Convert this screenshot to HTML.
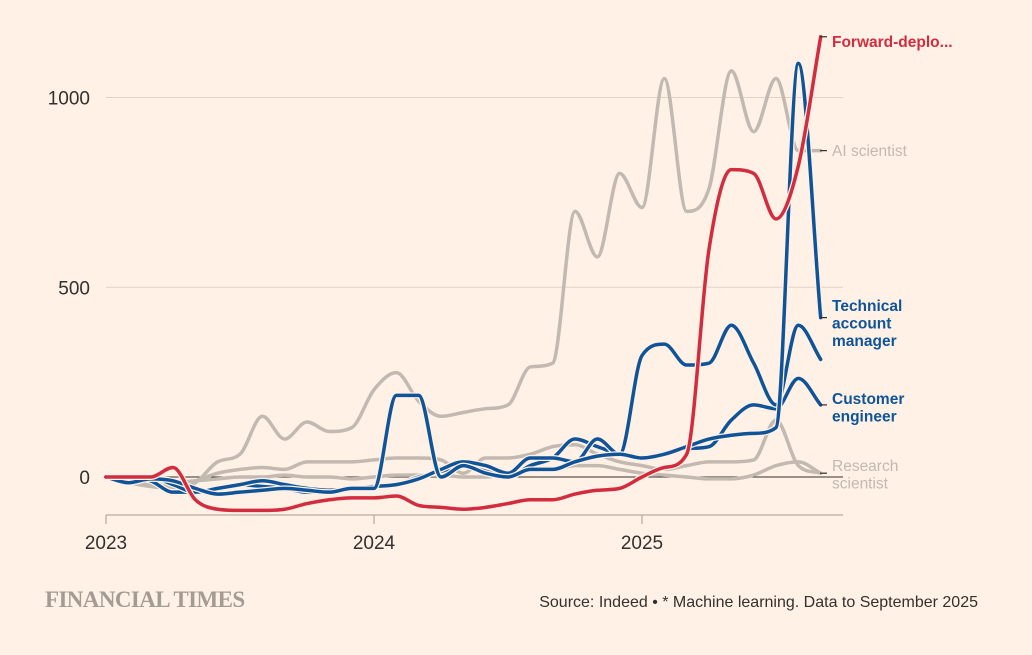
<!DOCTYPE html>
<html><head><meta charset="utf-8">
<style>
html,body{margin:0;padding:0;background:#fff1e5;}
body{width:1032px;height:650px;overflow:hidden;font-family:"Liberation Sans",sans-serif;}
svg text{font-family:"Liberation Sans",sans-serif;}
</style></head>
<body>
<svg id="chart" width="1032" height="650" viewBox="0 0 1032 650" xmlns="http://www.w3.org/2000/svg">
<rect width="1032" height="650" fill="#fff1e5"/>
<g id="grid"></g>
<g id="series"></g>
<g id="labels"></g>
<text x="45" y="607" font-size="23" fill="#a39c94" style="font-family:'Liberation Serif',serif;font-weight:bold;letter-spacing:-0.6px">FINANCIAL TIMES</text>
<text x="978" y="607" text-anchor="end" font-size="16" fill="#33302e">Source: Indeed • * Machine learning. Data to September 2025</text>
</svg>
<script>
const months = 33; // Jan 2023 .. Sep 2025
const yTicks = [0, 500, 1000];
const xTickLabels = ["2023", "2024", "2025"];
const xTickMonths = [0, 12, 24];
const gray2Values = [0,-10,-20,-25,-10,10,20,25,20,40,40,40,45,50,50,45,10,50,50,60,80,85,60,40,30,20,30,40,40,45,150,30,10];
const researchValues = [0,-5,-10,-15,-10,-5,0,0,5,0,0,-5,0,5,5,5,0,0,10,20,20,30,30,20,10,5,0,-5,-5,5,30,40,10];
const aiScientistValues = [0,-15,-25,-30,-15,40,60,160,100,145,120,130,230,275,200,160,170,180,190,290,300,700,580,800,710,1050,700,760,1070,910,1050,860,860];
const customerEngValues = [0,0,-10,-40,-40,-30,-20,-25,-30,-40,-35,-30,-25,-20,0,15,30,15,0,30,50,100,80,60,50,60,75,80,150,190,180,260,190];
const blue2Values = [0,-10,0,-20,-40,-30,-20,-10,-20,-30,-35,-30,-25,-20,-5,20,40,30,10,50,50,40,100,60,320,350,295,300,400,300,190,400,310];
const tamValues = [0,-15,-5,-10,-30,-45,-40,-35,-30,-35,-40,-30,-30,215,215,0,30,10,0,20,20,40,55,60,50,60,80,100,110,115,130,1090,420];
const fdeValues = [0,0,0,25,-60,-85,-88,-88,-85,-70,-60,-55,-55,-50,-75,-80,-85,-80,-70,-60,-60,-45,-35,-30,0,25,60,600,810,800,680,820,1160];

const X0=106, MPX=268/12;
const xs = m => X0 + m*MPX;
const ys = v => 477 - v*0.3795;
const NS="http://www.w3.org/2000/svg";
function mk(tag, attrs, parent){const e=document.createElementNS(NS,tag);for(const k in attrs)e.setAttribute(k,attrs[k]);parent.appendChild(e);return e;}

const grid=document.getElementById('grid');
yTicks.forEach(t=>{
  const l=mk('line',{x1:106,x2:843,y1:ys(t),y2:ys(t),stroke:t===0?'#33302e':'#e0d3c6','stroke-width':1},grid);
  
  
  const tx=mk('text',{x:90,y:ys(t)+7,'text-anchor':'end','font-size':19,fill:'#33302e'},grid);
  tx.textContent=t;
  
  
});
const ax=mk('line',{x1:106,x2:843,y1:515,y2:515,stroke:'#a79d93','stroke-width':1},grid);


xTickMonths.forEach((m,i)=>{
  const tk=mk('line',{x1:xs(m),x2:xs(m),y1:515,y2:524,stroke:'#a79d93'},grid);
  
  
  const tx=mk('text',{x:xs(m),y:549,'text-anchor':'middle','font-size':19,fill:'#33302e'},grid);
  tx.textContent=xTickLabels[i];
  
  
});

// monotone cubic interpolation (no overshoot)
function pathFor(vals){
  const n=vals.length, px=vals.map((v,i)=>xs(i)), py=vals.map(v=>ys(v));
  const h=MPX, d=[], m=new Array(n);
  for(let i=0;i<n-1;i++) d.push((py[i+1]-py[i])/h);
  m[0]=d[0]; m[n-1]=d[n-2];
  for(let i=1;i<n-1;i++){ m[i]=(d[i-1]*d[i]<=0)?0:(d[i-1]+d[i])/2; }
  for(let i=0;i<n-1;i++){
    if(d[i]===0){m[i]=0;m[i+1]=0;continue;}
    const a=m[i]/d[i], b=m[i+1]/d[i], s=a*a+b*b;
    if(s>9){const t=3/Math.sqrt(s);m[i]=t*a*d[i];m[i+1]=t*b*d[i];}
  }
  let p='M'+px[0]+','+py[0];
  for(let i=0;i<n-1;i++){
    p+=' C'+(px[i]+h/3)+','+(py[i]+m[i]*h/3)+' '+(px[i+1]-h/3)+','+(py[i+1]-m[i+1]*h/3)+' '+px[i+1]+','+py[i+1];
  }
  return p;
}
const ser=document.getElementById('series');
const seriesList=[
 ['gray-series-line',gray2Values,'#c2b9b0'],
 ['research-scientist-line',researchValues,'#c2b9b0'],
 ['ai-scientist-line',aiScientistValues,'#c2b9b0'],
 ['customer-engineer-line',customerEngValues,'#0f5499'],
 ['blue-series-line',blue2Values,'#0f5499'],
 ['technical-account-manager-line',tamValues,'#0f5499'],
 ['forward-deployed-line',fdeValues,'#d22c3f']
];
seriesList.forEach(s=>{
  if(s[2]!=='#c2b9b0'){
    const hl=mk('path',{d:pathFor(s[1]),fill:'none',stroke:'#fff1e5','stroke-width':6,'stroke-linejoin':'round'},ser);
    
    
  }
  const e=mk('path',{d:pathFor(s[1]),fill:'none',stroke:s[2],'stroke-width':3.5,'stroke-linejoin':'round','stroke-linecap':'round'},ser);
  
  
});

const lab=document.getElementById('labels');
const labelDefs=[
 ['forward-deployed-label',fdeValues,['Forward-deplo...'],'#d22c3f',true],
 ['ai-scientist-label',aiScientistValues,['AI scientist'],'#c2b9b0',false],
 ['technical-account-manager-label',tamValues,['Technical','account','manager'],'#0f5499',true],
 ['customer-engineer-label',customerEngValues,['Customer','engineer'],'#0f5499',true],
 ['research-scientist-label',researchValues,['Research','scientist'],'#c2b9b0',false]
];
const labelTop={ 'forward-deployed-label':47,'ai-scientist-label':156,'technical-account-manager-label':311,'customer-engineer-label':404,'research-scientist-label':471};
labelDefs.forEach(L=>{
  const yv=ys(L[1][L[1].length-1]);
  const tk=mk('line',{x1:820,x2:827,y1:yv,y2:yv,stroke:'#33302e','stroke-width':1.2},lab);
  
  
  const t=mk('text',{x:832,y:labelTop[L[0]],'font-size':15.5,fill:L[3],'font-weight':L[4]?'bold':'normal'},lab);
  
  
  L[2].forEach((w,i)=>{const sp=mk('tspan',{x:832,dy:i?17.5:0},t);sp.textContent=w;});
});
</script>
</body></html>
